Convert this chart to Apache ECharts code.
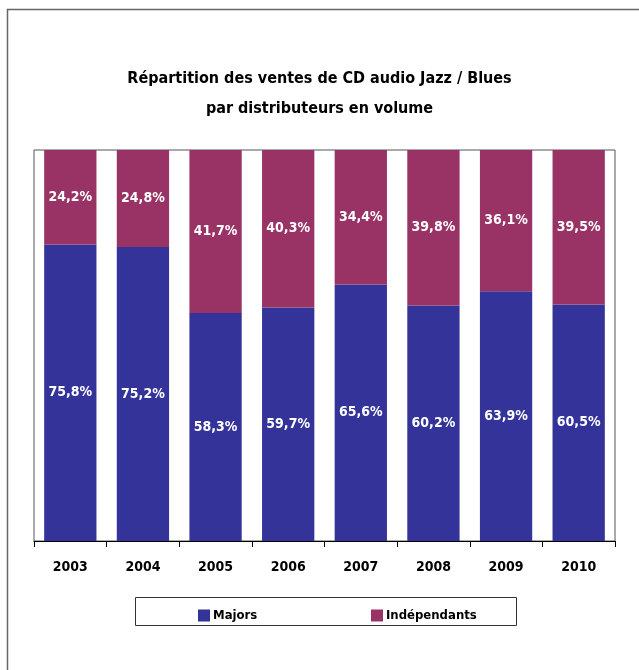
<!DOCTYPE html>
<html><head><meta charset="utf-8">
<script src="https://cdn.jsdelivr.net/npm/echarts@6/dist/echarts.min.js"></script>
<style>html,body{margin:0;padding:0;background:#fff}#c{width:639px;height:670px}</style>
</head><body><div id="c"></div>
<script>
const years = ['2003','2004','2005','2006','2007','2008','2009','2010'];
const majors = [75.8, 75.2, 58.3, 59.7, 65.6, 60.2, 63.9, 60.5];
const independants = [24.2, 24.8, 41.7, 40.3, 34.4, 39.8, 36.1, 39.5];
const seriesNames = ['Majors', 'Indépendants'];
const titleText = 'Répartition des ventes de CD audio Jazz / Blues\npar distributeurs en volume';

const FONT = "'DejaVu Sans Condensed', 'Liberation Sans Narrow', sans-serif";
const fmt = p => p.value.toFixed(1).replace('.', ',') + '%';
const chart = echarts.init(document.getElementById('c'));
chart.setOption({
  animation: false,
  backgroundColor: '#fff',
  title: {
    text: titleText, left: 'center', top: 59,
    textStyle: {fontFamily: FONT, fontWeight: 'bold', fontSize: 16, color: '#000', lineHeight: 30}
  },
  graphic: [
    {type: 'rect', shape: {x: 7.5, y: 9.5, width: 700, height: 700}, style: {fill: null, stroke: '#666', lineWidth: 1.5}, silent: true},
    {type: 'rect', shape: {x: 135.5, y: 597.5, width: 381, height: 28}, style: {fill: null, stroke: '#333', lineWidth: 1}, silent: true}
  ],
  legend: [
    {data: [seriesNames[0]], left: 193, top: 604, itemWidth: 12, itemHeight: 12, itemGap: 4, icon: 'rect',
     textStyle: {fontFamily: FONT, fontWeight: 'bold', fontSize: 13, color: '#000', padding: [0,0,0,-2]}},
    {data: [seriesNames[1]], left: 366, top: 604, itemWidth: 12, itemHeight: 12, itemGap: 4, icon: 'rect',
     textStyle: {fontFamily: FONT, fontWeight: 'bold', fontSize: 13, color: '#000', padding: [0,0,0,-2]}}
  ],
  grid: {left: 34, right: 24, top: 150, bottom: 129, show: true, borderColor: '#555', borderWidth: 1},
  xAxis: {
    type: 'category', data: years,
    axisLine: {lineStyle: {color: '#000', width: 1}},
    axisTick: {show: true, length: 6, lineStyle: {color: '#000'}},
    axisLabel: {fontFamily: FONT, fontWeight: 'bold', fontSize: 14, color: '#000', margin: 19}
  },
  yAxis: {type: 'value', min: 0, max: 100, show: false, splitLine: {show: false}},
  series: [
    {name: seriesNames[0], type: 'bar', stack: 't', data: majors, barCategoryGap: '28%',
     itemStyle: {color: '#333399'},
     label: {show: true, position: 'inside', formatter: fmt, color: '#fff', fontFamily: FONT, fontWeight: 'bold', fontSize: 14}},
    {name: seriesNames[1], type: 'bar', stack: 't', data: independants, barCategoryGap: '28%',
     itemStyle: {color: '#993366'},
     label: {show: true, position: 'inside', formatter: fmt, color: '#fff', fontFamily: FONT, fontWeight: 'bold', fontSize: 14}}
  ]
});
</script></body></html>
